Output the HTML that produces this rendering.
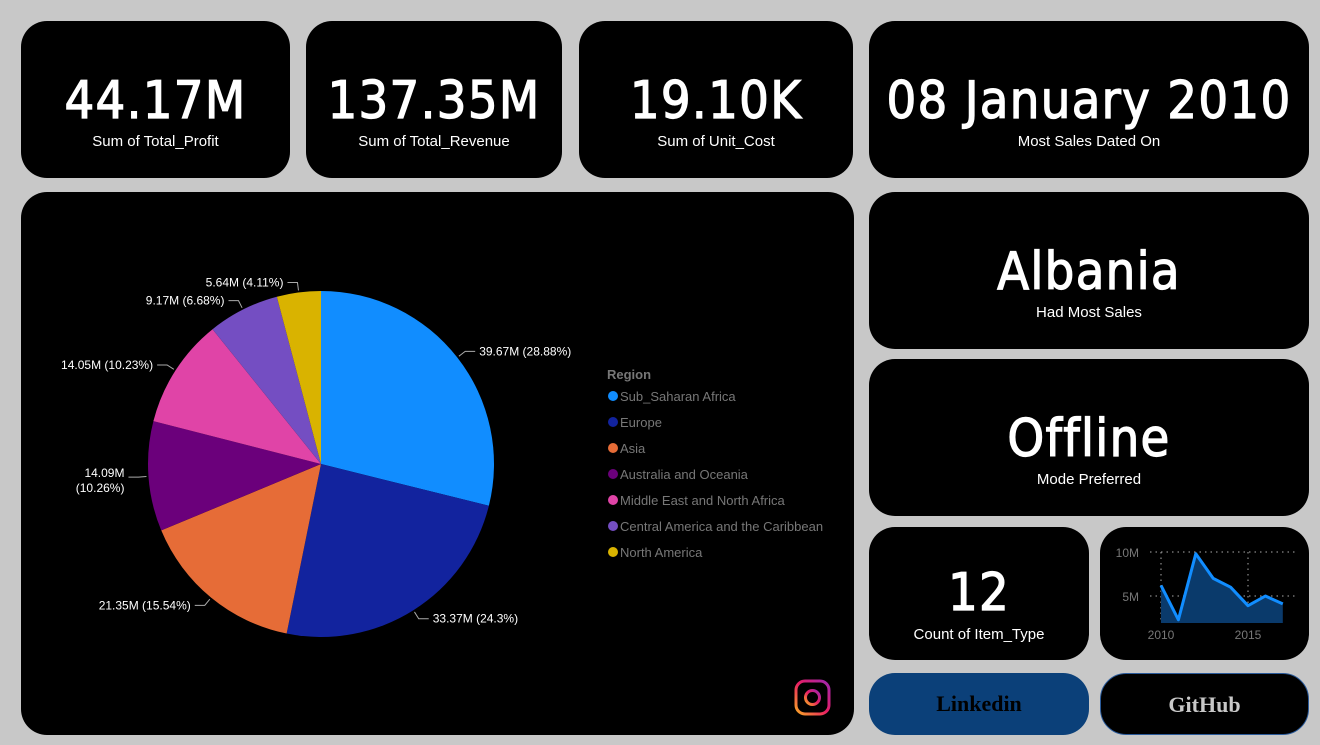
<!DOCTYPE html>
<html><head><meta charset="utf-8"><style>
body{margin:0;width:1320px;height:745px;background:#c8c8c8;font-family:"Liberation Sans","DejaVu Sans",sans-serif;position:relative;overflow:hidden}
.card{position:absolute;background:#000;border-radius:26px;color:#fff;text-align:center}
.big{font-family:"DejaVu Sans Condensed","DejaVu Sans",sans-serif;font-size:52px;font-weight:normal;-webkit-text-stroke:1.2px #fff;letter-spacing:1.3px;position:absolute;left:0;right:0}
.lab{font-size:15px;position:absolute;left:0;right:0}
.btn{position:absolute;border-radius:26px;font-family:"Liberation Serif",serif;font-weight:bold;font-size:22px;text-align:center;line-height:62px}
</style></head><body>
<div class="card" style="left:21px;top:21px;width:269px;height:157px"><div class="big" style="top:50px">44.17M</div><div class="lab" style="top:112px">Sum of Total_Profit</div></div>
<div class="card" style="left:306px;top:21px;width:256px;height:157px"><div class="big" style="top:50px">137.35M</div><div class="lab" style="top:112px">Sum of Total_Revenue</div></div>
<div class="card" style="left:579px;top:21px;width:274px;height:157px"><div class="big" style="top:50px">19.10K</div><div class="lab" style="top:112px">Sum of Unit_Cost</div></div>
<div class="card" style="left:869px;top:21px;width:440px;height:157px"><div class="big" style="top:50px">08 January 2010</div><div class="lab" style="top:112px">Most Sales Dated On</div></div>
<div class="card" style="left:869px;top:192px;width:440px;height:157px"><div class="big" style="top:50px">Albania</div><div class="lab" style="top:112px">Had Most Sales</div></div>
<div class="card" style="left:869px;top:359px;width:440px;height:157px"><div class="big" style="top:50px">Offline</div><div class="lab" style="top:112px">Mode Preferred</div></div>
<div class="card" style="left:869px;top:527px;width:220px;height:133px"><div class="big" style="top:36px">12</div><div class="lab" style="top:99px">Count of Item_Type</div></div>
<div class="card" style="left:1100px;top:527px;width:209px;height:133px"></div>
<div class="card" style="left:21px;top:192px;width:833px;height:543px"></div>
<div class="btn" style="left:869px;top:673px;width:220px;height:62px;background:#0b4079;color:#000">Linkedin</div>
<div class="btn" style="left:1100px;top:673px;width:207px;height:60px;background:#000;border:1px solid #2a5a9a;color:#c8c8c8">GitHub</div>
<svg id="svg" width="1320" height="745" style="position:absolute;left:0;top:0" font-family="Liberation Sans, sans-serif"></svg>
<script>
const regions=["Sub_Saharan Africa","Europe","Asia","Australia and Oceania","Middle East and North Africa","Central America and the Caribbean","North America"];
const values=[39.67,33.37,21.35,14.09,14.05,9.17,5.64];
const pctLabels=["28.88%","24.3%","15.54%","10.26%","10.23%","6.68%","4.11%"];
const colors=["#118dff","#12239e","#e66c37","#6b007b","#e044a7","#744ec2","#d9b300"];
const years=[2010,2011,2012,2013,2014,2015,2016,2017];
const sales=[6.2,2.3,9.8,7.0,6.0,3.9,5.0,4.1];
const NS="http://www.w3.org/2000/svg",svg=document.getElementById('svg');
function mk(t,a,p){const e=document.createElementNS(NS,t);for(const k in a)e.setAttribute(k,a[k]);(p||svg).appendChild(e);return e;}
const cx=321,cy=464,r=173,tot=values.reduce((a,b)=>a+b,0);
let ang=-Math.PI/2;
values.forEach((v,i)=>{const a2=ang+v/tot*2*Math.PI;
 const p=mk('path',{d:`M${cx},${cy}L${cx+r*Math.cos(ang)},${cy+r*Math.sin(ang)}A${r},${r} 0 ${a2-ang>Math.PI?1:0} 1 ${cx+r*Math.cos(a2)},${cy+r*Math.sin(a2)}Z`,fill:colors[i]});
 
 
 const m=(ang+a2)/2,x1=cx+(r+2)*Math.cos(m),y1=cy+(r+2)*Math.sin(m),x2=cx+(r+10)*Math.cos(m),y2=cy+(r+10)*Math.sin(m);
 const right=Math.cos(m)>=0,x3=x2+(right?10:-10);
 mk('polyline',{points:`${x1},${y1} ${x2},${y2} ${x3},${y2}`,fill:'none',stroke:'#aaa','stroke-width':1});
 const txt=v.toFixed(2).replace(/0$/,'')+'M ('+pctLabels[i]+')';
 const t=mk('text',{x:x3+(right?4:-4),y:y2+4,fill:'#fff','font-size':12,'text-anchor':right?'start':'end'});
 if(i===3){const parts=txt.split(' ');
  const a=mk('tspan',{x:x3-4,dy:-4},t);a.textContent=parts[0];
  const b=mk('tspan',{x:x3-4,dy:15},t);b.textContent=parts[1];}
 else t.textContent=txt;
 
 
 ang=a2;});
const lt=mk('text',{x:607,y:379,fill:'#777','font-size':13,'font-weight':'bold'});lt.textContent='Region';
regions.forEach((g,i)=>{const y=396+i*26;mk('circle',{cx:613,cy:y,r:5,fill:colors[i]});
 const t=mk('text',{x:620,y:y+5,fill:'#777','font-size':13});t.textContent=g;
 
 });
const xs=y=>1161+(y-2010)*17.4, ys=v=>596-(v-5)*8.8, base=623;
[10,5].forEach(v=>{mk('line',{x1:1150,x2:1295,y1:ys(v),y2:ys(v),stroke:'#aaa','stroke-dasharray':'1.5,4'});
 const t=mk('text',{x:1139,y:ys(v)+5,fill:'#777','font-size':12,'text-anchor':'end'});t.textContent=v+'M';});
[2010,2015].forEach(y=>{mk('line',{x1:xs(y),x2:xs(y),y1:552,y2:base,stroke:'#aaa','stroke-dasharray':'1.5,4'});
 const t=mk('text',{x:xs(y),y:639,fill:'#777','font-size':12,'text-anchor':'middle'});t.textContent=y;});
const pts=years.map((y,i)=>xs(y)+','+ys(sales[i])).join(' ');
mk('polygon',{points:`${xs(years[0])},${base} ${pts} ${xs(years[years.length-1])},${base}`,fill:'#0a3a6b'});
const ln=mk('polyline',{points:pts,fill:'none',stroke:'#118dff','stroke-width':3,'stroke-linejoin':'round'});


const g=mk('g',{});
mk('defs',{}).innerHTML='<linearGradient id="ig" x1="0" y1="1" x2="1" y2="0"><stop offset="0" stop-color="#f9a825"/><stop offset="0.5" stop-color="#e91e63"/><stop offset="1" stop-color="#9c27b0"/></linearGradient>';
mk('rect',{x:796,y:681,width:33,height:33,rx:9,fill:'none',stroke:'url(#ig)','stroke-width':3},g);
mk('circle',{cx:812.5,cy:697.5,r:7,fill:'none',stroke:'url(#ig)','stroke-width':3},g);
</script>
</body></html>
